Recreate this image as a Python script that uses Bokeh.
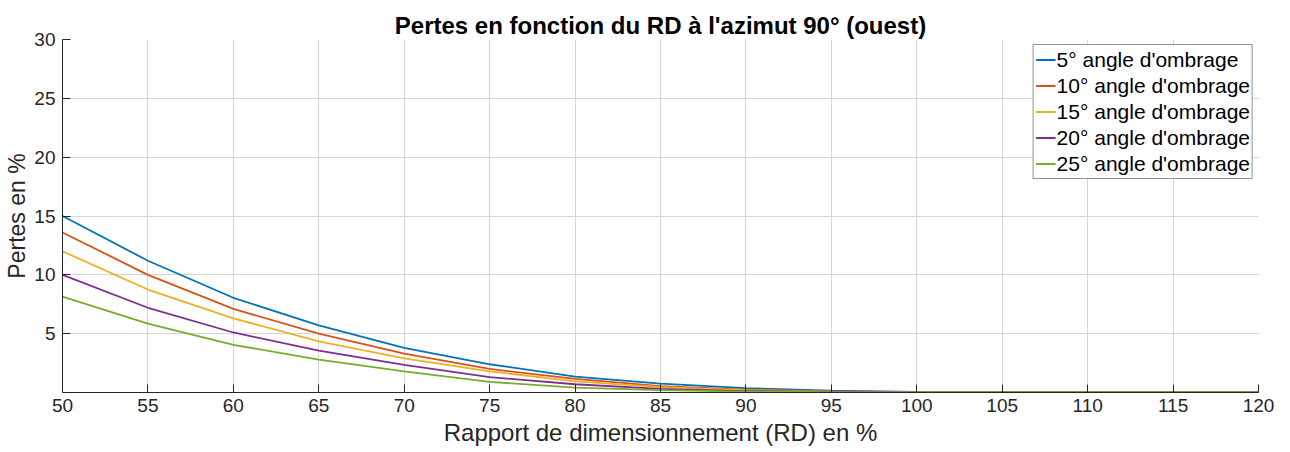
from bokeh.plotting import figure
from bokeh.models import FixedTicker, Range1d, Legend, LegendItem
from bokeh.embed import file_html
from bokeh.resources import INLINE

rd = [50, 55, 60, 65, 70, 75, 80, 85, 90, 95, 100, 105, 110, 115, 120]
s5 = [15.0, 11.2, 8.05, 5.7, 3.8, 2.4, 1.35, 0.75, 0.38, 0.15, 0.05, 0.02, 0.01, 0, 0]
s10 = [13.6, 10.0, 7.1, 5.0, 3.3, 2.0, 1.15, 0.55, 0.25, 0.1, 0.03, 0.01, 0, 0, 0]
s15 = [12.0, 8.75, 6.3, 4.35, 2.9, 1.8, 0.95, 0.45, 0.2, 0.08, 0.02, 0, 0, 0, 0]
s20 = [10.0, 7.2, 5.1, 3.55, 2.35, 1.3, 0.7, 0.3, 0.12, 0.05, 0.01, 0, 0, 0, 0]
s25 = [8.15, 5.85, 4.05, 2.8, 1.8, 0.9, 0.42, 0.2, 0.08, 0.03, 0.01, 0, 0, 0, 0]
series = [s5, s10, s15, s20, s25]
labels = ["5° angle d'ombrage", "10° angle d'ombrage", "15° angle d'ombrage",
          "20° angle d'ombrage", "25° angle d'ombrage"]
colors = ["#0072BD", "#D95319", "#EDB120", "#7E2F8E", "#77AC30"]
xticks = list(range(50, 121, 5))
yticks = [5, 10, 15, 20, 25, 30]

FONT = "Liberation Sans"
TXT = "#262626"

p = figure(width=1290, height=452, output_backend="svg", toolbar_location=None,
           x_range=Range1d(50, 120), y_range=Range1d(0, 30),
           title="Pertes en fonction du RD à l'azimut 90° (ouest)")
p.min_border_left = 62
p.min_border_right = 32
p.min_border_top = 39
p.min_border_bottom = 60
p.outline_line_color = None

p.title.align = "center"
p.title.text_font = FONT
p.title.text_font_size = "24px"
p.title.text_font_style = "bold"
p.title.text_color = "black"
p.title.standoff = 2

p.xaxis.ticker = FixedTicker(ticks=xticks)
p.yaxis.ticker = FixedTicker(ticks=yticks)
p.xaxis.axis_label = "Rapport de dimensionnement (RD) en %"
p.yaxis.axis_label = "Pertes en %"
for ax in (p.xaxis[0], p.yaxis[0]):
    ax.axis_line_color = TXT
    ax.axis_line_width = 1
    ax.major_tick_line_color = TXT
    ax.major_tick_in = 8
    ax.major_tick_out = 0
    ax.minor_tick_line_color = None
    ax.major_label_text_font = FONT
    ax.major_label_text_font_size = "19px"
    ax.major_label_text_color = TXT
    ax.axis_label_text_font = FONT
    ax.axis_label_text_color = TXT
    ax.axis_label_text_font_style = "normal"
p.xaxis.axis_label_text_font_size = "24px"
p.yaxis.axis_label_text_font_size = "23px"
p.xaxis.major_label_standoff = 6
p.xaxis.axis_label_standoff = 4
p.yaxis.major_label_standoff = 7
p.yaxis.axis_label_standoff = 1

p.grid.grid_line_color = "#d6d6d6"
p.grid.grid_line_width = 1

items = []
for s, lab, c in zip(series, labels, colors):
    r = p.line(rd, s, line_color=c, line_width=1.8)
    items.append(LegendItem(label=lab, renderers=[r]))

leg = Legend(items=items, location="top_right")
leg.margin = 5
leg.padding = 2
leg.spacing = 1
leg.glyph_width = 20
leg.glyph_height = 25
leg.label_height = 25
leg.label_standoff = 1
leg.label_text_font = FONT
leg.label_text_font_size = "21px"
leg.label_text_color = "black"
leg.border_line_color = TXT
leg.border_line_width = 1
leg.background_fill_color = "white"
leg.background_fill_alpha = 1
p.add_layout(leg)

open("out.html", "w").write(file_html(p, INLINE))
